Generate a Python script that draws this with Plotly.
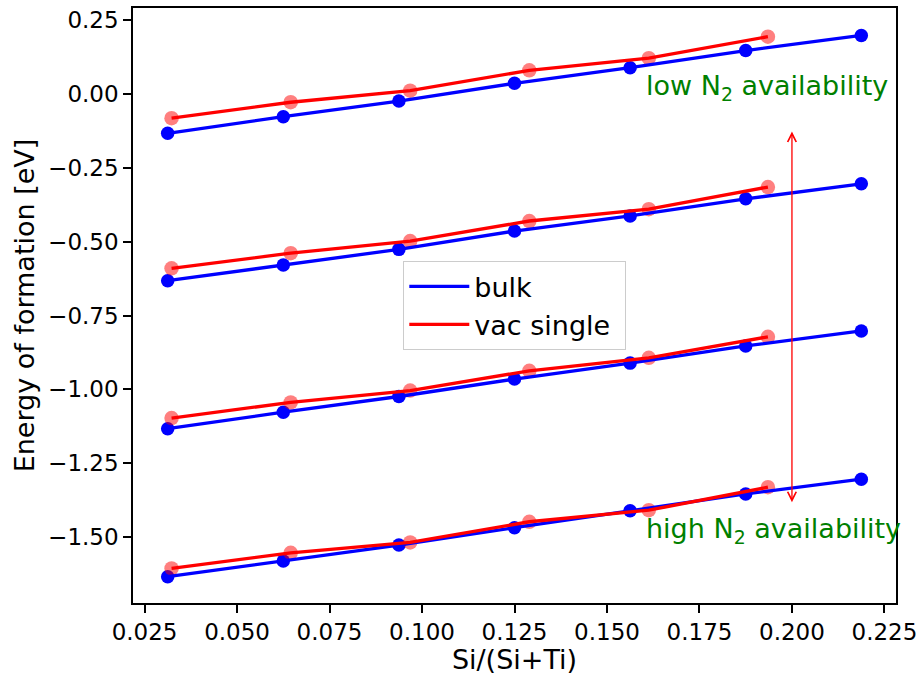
import plotly.graph_objects as go

# ---- data ----
x_bulk = [0.03125, 0.0625, 0.09375, 0.125, 0.15625, 0.1875, 0.21875]
x_vac = [0.0323, 0.0645, 0.0968, 0.129, 0.1613, 0.1935]

bulk_low = [-0.133, -0.077, -0.024, 0.036, 0.089, 0.147, 0.198]
bulk_mid1 = [-0.632, -0.579, -0.526, -0.464, -0.413, -0.355, -0.304]
bulk_mid2 = [-1.133, -1.077, -1.024, -0.965, -0.911, -0.853, -0.802]
bulk_high = [-1.634, -1.581, -1.527, -1.468, -1.411, -1.354, -1.304]

vac_low = [-0.082, -0.028, 0.011, 0.080, 0.121, 0.194]
vac_mid1 = [-0.590, -0.539, -0.498, -0.430, -0.390, -0.315]
vac_mid2 = [-1.097, -1.044, -1.004, -0.937, -0.893, -0.822]
vac_high = [-1.606, -1.553, -1.518, -1.448, -1.409, -1.331]

arrow_x = 0.2
arrow_top = -0.127
arrow_bottom = -1.387

text_x = 0.16
text_low_y = 0.0
text_high_y = -1.5

x_tickvals = [0.025, 0.05, 0.075, 0.1, 0.125, 0.15, 0.175, 0.2, 0.225]
x_ticktext = ["0.025", "0.050", "0.075", "0.100", "0.125", "0.150", "0.175", "0.200", "0.225"]
y_tickvals = [0.25, 0.0, -0.25, -0.5, -0.75, -1.0, -1.25, -1.5]
y_ticktext = ["0.25", "0.00", "\u22120.25", "\u22120.50", "\u22120.75", "\u22121.00", "\u22121.25", "\u22121.50"]

bulk_groups = [bulk_low, bulk_mid1, bulk_mid2, bulk_high]
vac_groups = [vac_low, vac_mid1, vac_mid2, vac_high]


def join(xs, groups):
    X, Y = [], []
    for g in groups:
        X += list(xs) + [None]
        Y += list(g) + [None]
    return X, Y


xb, yb = join(x_bulk, bulk_groups)
xv, yv = join(x_vac, vac_groups)

BLUE = "#0000ff"
RED = "#ff0000"
FONT = "DejaVu Sans"

fig = go.Figure()
# scatter markers (drawn below the lines, like matplotlib collections)
fig.add_trace(go.Scatter(x=xb, y=yb, mode="markers", showlegend=False,
                         marker=dict(color=BLUE, size=13.5, line=dict(width=0)),
                         hoverinfo="skip"))
fig.add_trace(go.Scatter(x=xv, y=yv, mode="markers", showlegend=False,
                         marker=dict(color="rgba(255,0,0,0.5)", size=14.5, line=dict(width=0)),
                         hoverinfo="skip"))
# lines
fig.add_trace(go.Scatter(x=xb, y=yb, mode="lines", name="bulk",
                         line=dict(color=BLUE, width=3.3), connectgaps=False))
fig.add_trace(go.Scatter(x=xv, y=yv, mode="lines", name="vac single ",
                         line=dict(color=RED, width=3.3), connectgaps=False))

# double-headed arrow
fig.add_annotation(x=arrow_x, y=arrow_top, ax=arrow_x, ay=arrow_bottom,
                   xref="x", yref="y", axref="x", ayref="y", text="",
                   showarrow=True, arrowside="end+start", arrowhead=5,
                   arrowsize=1.3, arrowwidth=1.3, arrowcolor=RED,
                   standoff=0, startstandoff=0)

fig.add_annotation(x=text_x, y=text_low_y, xref="x", yref="y",
                   text="low N<sub>2</sub> availability", showarrow=False,
                   xanchor="left", yanchor="bottom", yshift=-13,
                   font=dict(family=FONT, size=27, color="#008000"))
fig.add_annotation(x=text_x, y=text_high_y, xref="x", yref="y",
                   text="high N<sub>2</sub> availability", showarrow=False,
                   xanchor="left", yanchor="bottom", yshift=-13,
                   font=dict(family=FONT, size=27, color="#008000"))

axis_common = dict(showgrid=False, zeroline=False, showline=True, mirror=True,
                   linecolor="black", linewidth=1.6, ticks="outside",
                   ticklen=8, tickwidth=1.6, tickcolor="black",
                   tickfont=dict(family=FONT, size=23, color="black"))

fig.update_xaxes(range=[0.021875, 0.228125], tickvals=x_tickvals, ticktext=x_ticktext,
                 title=dict(text="Si/(Si+Ti)", font=dict(family=FONT, size=27, color="black"),
                            standoff=7),
                 **axis_common)
fig.update_yaxes(range=[-1.723, 0.291], tickvals=y_tickvals, ticktext=y_ticktext,
                 title=dict(text="Energy of formation [eV]",
                            font=dict(family=FONT, size=27, color="black"), standoff=6),
                 **axis_common)

fig.update_layout(
    width=920, height=675,
    margin=dict(l=133, r=24, t=8, b=72, autoexpand=False),
    plot_bgcolor="white", paper_bgcolor="white",
    font=dict(family=FONT, color="black"),
    legend=dict(x=0.5, y=0.5, xanchor="center", yanchor="middle",
                bgcolor="rgba(255,255,255,0.8)", bordercolor="#cccccc", borderwidth=1.3,
                font=dict(family=FONT, size=27, color="black"),
                tracegroupgap=0, itemwidth=60),
)

fig.write_html("out.html", config={"displayModeBar": False},
               post_script="document.body.style.margin='0px';document.body.style.padding='0px';")
